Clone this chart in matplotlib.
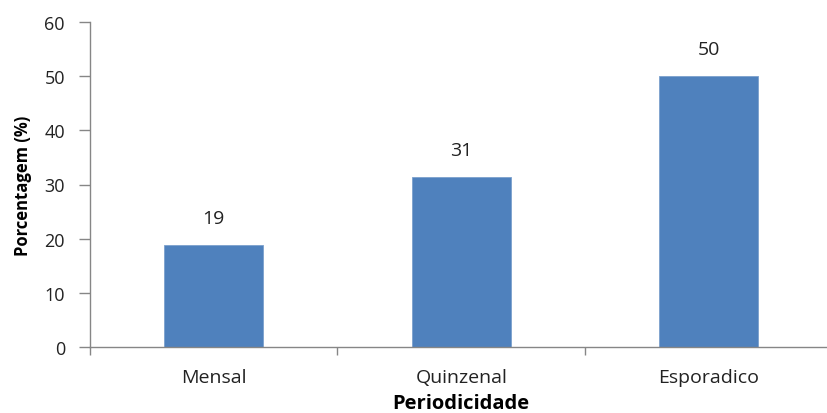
import matplotlib
matplotlib.use("Agg")
import matplotlib.pyplot as plt
import numpy as np

categories = ["Mensal", "Quinzenal", "Esporadico"]
values = [18.8, 31.3, 50.0]
labels = ["19", "31", "50"]
yticks = [0, 10, 20, 30, 40, 50, 60]

plt.rcParams['font.family'] = ['Open Sans', 'DejaVu Sans']

fig = plt.figure(figsize=(8.28, 4.14), dpi=100)
W, H = 828, 414
left, right, top, bottom = 90, 832.5, 23, 348
ax = fig.add_axes([left / W, 1 - bottom / H, (right - left) / W, (bottom - top) / H])

x = np.arange(len(categories))
color = "#4F81BD"
ax.bar(x, values, width=0.4, color=color, edgecolor="#7BA0CD", linewidth=0.6, zorder=2)
for xi, v, lab in zip(x, values, labels):
    ax.annotate(lab, (xi, v), xytext=(0, 13), textcoords="offset points",
                ha="center", va="bottom", fontsize=14, color="#222222")

ax.set_xlim(-0.5, 2.5)
ax.set_ylim(0, 60)
ax.set_yticks(yticks)
ax.set_yticklabels([str(t) for t in yticks], fontsize=13, color="#222222")
ax.set_xticks(x)
ax.set_xticklabels(categories, fontsize=14, color="#222222")
ax.set_xticks([-0.5, 0.5, 1.5, 2.5], minor=True)
ax.tick_params(axis="x", which="major", length=0, pad=15)
ax.tick_params(axis="x", which="minor", length=6, color="#868686", width=1)
ax.tick_params(axis="y", length=8, color="#868686", width=1, pad=10)

for s in ["top", "right"]:
    ax.spines[s].set_visible(False)
for s in ["left", "bottom"]:
    ax.spines[s].set_color("#868686")
    ax.spines[s].set_linewidth(1)

ax.set_ylabel("Porcentagem (%)", fontsize=12, fontweight="bold", labelpad=9)
ax.set_xlabel("Periodicidade", fontsize=14.5, fontweight="bold", labelpad=5)

fig.savefig("out.png", dpi=100)
